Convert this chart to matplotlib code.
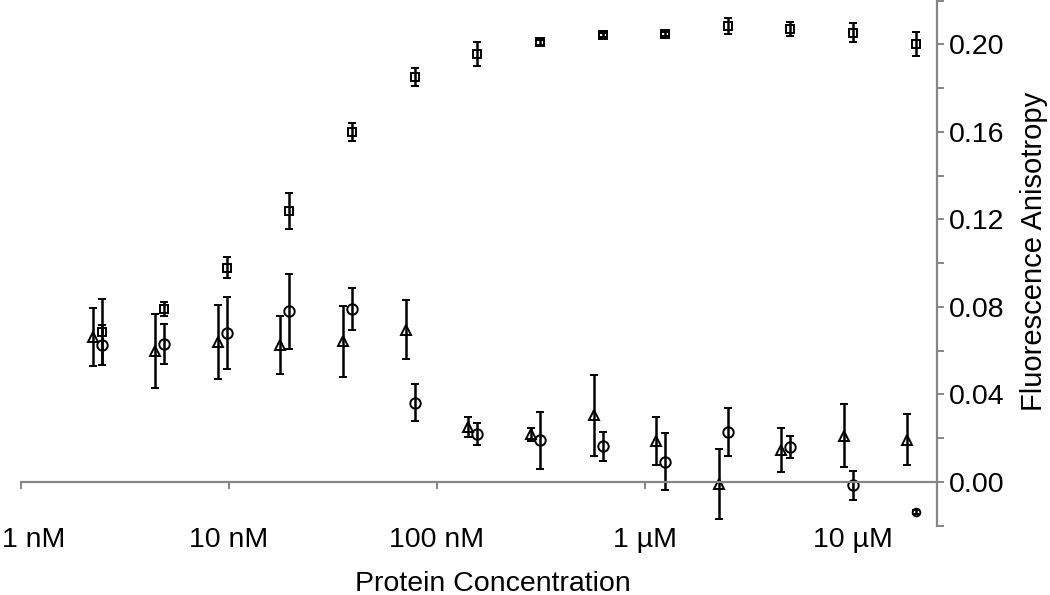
import numpy as np
import matplotlib
matplotlib.use("Agg")
import matplotlib.pyplot as plt
from matplotlib.ticker import FixedLocator, FixedFormatter
from matplotlib.transforms import ScaledTranslation

plt.rcParams['font.family'] = ['Liberation Sans', 'DejaVu Sans']

# protein concentration, nM (2-fold dilution series)
conc = np.array([2.44, 4.88, 9.77, 19.5, 39.1, 78.1, 156, 313, 625,
                 1250, 2500, 5000, 10000, 20000])

# squares
sq_val = [0.0686, 0.079, 0.098, 0.124, 0.160, 0.185, 0.1955, 0.201, 0.2043,
          0.2047, 0.2085, 0.207, 0.2054, 0.2002]
sq_err = [0.015, 0.0033, 0.0047, 0.0083, 0.0043, 0.0041, 0.0054, 0.0012, 0.0010,
          0.0010, 0.0036, 0.0033, 0.0042, 0.0053]

# circles
ci_val = [0.0626, 0.063, 0.068, 0.078, 0.079, 0.0363, 0.0218, 0.019, 0.0163,
          0.0093, 0.023, 0.0158, -0.0015, -0.0137]
ci_err = [0.009, 0.009, 0.0165, 0.017, 0.0095, 0.0085, 0.005, 0.013, 0.0067,
          0.013, 0.011, 0.005, 0.0067, 0.001]

# triangles
tr_val = [0.0664, 0.060, 0.064, 0.0627, 0.0643, 0.0696, 0.0252, 0.0219, 0.0305,
          0.0189, -0.001, 0.0146, 0.0212, 0.0194]
tr_err = [0.0133, 0.017, 0.017, 0.0134, 0.0163, 0.0135, 0.0045, 0.003, 0.0186,
          0.011, 0.016, 0.010, 0.0143, 0.0116]

x_ticks = [1, 10, 100, 1000, 10000]
x_labels = ['1 nM', '10 nM', '100 nM', '1 µM', '10 µM']
y_major = [0.00, 0.04, 0.08, 0.12, 0.16, 0.20]
y_minor = [-0.02, 0.02, 0.06, 0.10, 0.14, 0.18, 0.22]

fs = 20.5
fig = plt.figure(figsize=(10.5, 5.95), dpi=100)
ax = fig.add_axes([0.02, 0.1164, 0.8724, 0.8824])

kw = dict(ls='none', color='black', mfc='none', mec='black', mew=1.4,
          ecolor='black', elinewidth=1.8, capsize=3.2, capthick=1.8)
ax.errorbar(conc, sq_val, yerr=sq_err, marker='s', ms=6, **kw)
ax.errorbar(conc[:-1], ci_val[:-1], yerr=ci_err[:-1], marker='o', ms=7.5, **kw)
# last circle is drawn smaller in the original
ax.errorbar(conc[-1:], ci_val[-1:], yerr=ci_err[-1:], marker='o', ms=5.5, **kw)
# triangles sit slightly left of their point, as in the original
ax.errorbar(conc * 0.905, tr_val, yerr=tr_err, marker='^', ms=7.5, **kw)

ax.set_xscale('log')
ax.set_xlim(1, 25350)
ax.set_ylim(-0.02, 0.22)

grey = '#868686'
ax.spines['top'].set_visible(False)
ax.spines['left'].set_visible(False)
ax.spines['bottom'].set_position(('data', 0))
for s in ('bottom', 'right'):
    ax.spines[s].set_color(grey)
    ax.spines[s].set_linewidth(1.6)

ax.xaxis.set_major_locator(FixedLocator(x_ticks))
ax.xaxis.set_major_formatter(FixedFormatter(x_labels))
ax.xaxis.set_minor_locator(FixedLocator([]))
ax.tick_params(axis='x', which='major', direction='out', length=5, width=1.4,
               color=grey, labelsize=fs, pad=27.5)

ax.yaxis.tick_right()
ax.yaxis.set_label_position('right')
ax.yaxis.set_major_locator(FixedLocator(y_major))
ax.yaxis.set_major_formatter(FixedFormatter(['%.2f' % v for v in y_major]))
ax.yaxis.set_minor_locator(FixedLocator(y_minor))
ax.tick_params(axis='y', which='both', direction='out', length=5, width=1.4,
               color=grey, labelsize=fs, pad=3.6)

ax.set_xlabel('Protein Concentration', fontsize=fs)
ax.xaxis.set_label_coords(0.515, -0.086)
ax.set_ylabel('Fluorescence Anisotropy', fontsize=21)
ax.yaxis.label.set_verticalalignment('center')
ax.yaxis.set_label_coords(1.106, 0.522)

# first x label is pushed inside the figure, like the original
fig.canvas.draw()
first = ax.get_xticklabels()[0]
first.set_horizontalalignment('left')
first.set_transform(first.get_transform() +
                    ScaledTranslation(-19 / 100, 0, fig.dpi_scale_trans))

fig.savefig('out.png', dpi=100)
